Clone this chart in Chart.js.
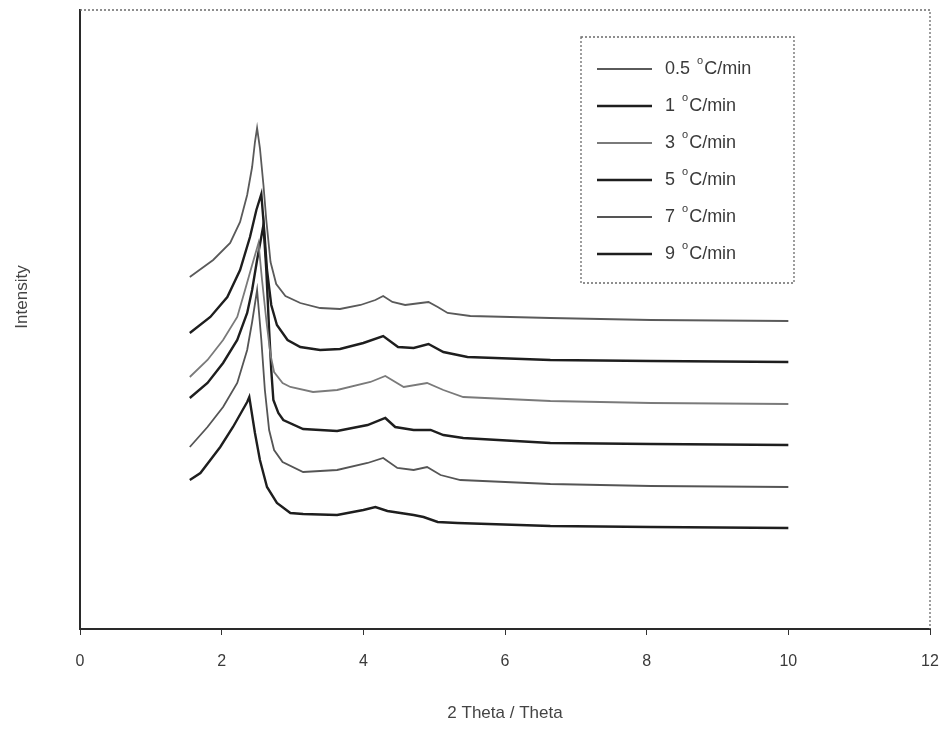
<!DOCTYPE html>
<html>
<head>
<meta charset="utf-8">
<script src="https://cdn.jsdelivr.net/npm/chart.js@4.4.1/dist/chart.umd.min.js"></script>
<style>
  html, body { margin: 0; padding: 0; background: #fff; }
</style>
</head>
<body>
<canvas id="graficoXRD" width="948" height="729"></canvas>
<script>
// heating rates (legend)
const rates = ['0.5 °C/min', '1 °C/min', '3 °C/min', '5 °C/min', '7 °C/min', '9 °C/min'];
const xTicks = [0, 2, 4, 6, 8, 10, 12];

// 2 theta values and intensity (a.u., curves are stacked)
const x05 = [1.55, 1.88, 2.12, 2.26, 2.36, 2.43, 2.47, 2.50, 2.54, 2.59, 2.63, 2.69, 2.77, 2.90, 3.11, 3.39, 3.67, 3.96, 4.17, 4.28, 4.41, 4.59, 4.81, 4.92, 5.05, 5.19, 5.51, 6.64, 8.06, 10];
const y05 = [352, 369, 386, 407, 434, 462, 487, 501, 481, 444, 409, 367, 345, 333, 326, 321, 320, 324, 329, 333, 327, 324, 326, 327, 322, 316, 313, 311, 309, 308];

const x1 = [1.55, 1.84, 2.08, 2.26, 2.40, 2.49, 2.56, 2.60, 2.64, 2.70, 2.78, 2.93, 3.11, 3.39, 3.67, 4.00, 4.28, 4.49, 4.71, 4.92, 5.13, 5.47, 6.64, 8.06, 10];
const y1 = [296, 312, 332, 359, 392, 419, 435, 399, 359, 324, 304, 289, 282, 279, 280, 286, 293, 282, 281, 285, 277, 272, 269, 268, 267];

const x3 = [1.55, 1.80, 2.02, 2.22, 2.33, 2.43, 2.52, 2.57, 2.63, 2.69, 2.74, 2.86, 2.97, 3.29, 3.63, 4.10, 4.31, 4.57, 4.90, 5.13, 5.41, 6.64, 8.06, 10];
const y3 = [252, 269, 289, 312, 339, 364, 386, 349, 309, 274, 257, 246, 242, 237, 239, 247, 253, 242, 246, 239, 232, 228, 226, 225];

const x5 = [1.55, 1.80, 2.02, 2.22, 2.36, 2.43, 2.50, 2.59, 2.63, 2.67, 2.70, 2.73, 2.80, 2.87, 3.15, 3.63, 4.06, 4.31, 4.45, 4.71, 4.95, 5.13, 5.41, 6.64, 8.06, 10];
const y5 = [231, 246, 266, 289, 316, 339, 369, 404, 359, 299, 259, 229, 216, 209, 200, 198, 204, 211, 202, 199, 199, 194, 191, 186, 185, 184];

const x7 = [1.55, 1.80, 2.02, 2.22, 2.36, 2.43, 2.50, 2.56, 2.61, 2.67, 2.74, 2.86, 3.15, 3.63, 4.06, 4.28, 4.48, 4.71, 4.90, 5.09, 5.37, 6.64, 8.06, 10];
const y7 = [182, 202, 222, 246, 279, 307, 339, 289, 239, 199, 179, 167, 157, 159, 166, 171, 161, 159, 162, 154, 149, 145, 143, 142];

const x9 = [1.55, 1.70, 1.98, 2.16, 2.36, 2.39, 2.47, 2.54, 2.64, 2.78, 2.97, 3.15, 3.63, 4.00, 4.17, 4.34, 4.71, 4.85, 5.05, 5.33, 6.64, 8.06, 10];
const y9 = [149, 156, 182, 202, 227, 232, 196, 169, 142, 126, 116, 115, 114, 119, 122, 118, 114, 112, 107, 106, 103, 102, 101];

const series = [[x05, y05], [x1, y1], [x3, y3], [x5, y5], [x7, y7], [x9, y9]];
const colores = ['#5a5a5a', '#1e1e1e', '#7a7a7a', '#1e1e1e', '#555555', '#1e1e1e'];
const grosor = [1.8, 2.4, 1.8, 2.4, 1.8, 2.4];

const fuente = 'Liberation Sans, Arial, sans-serif';

// frame (dotted top/right), y title and legend box
const extras = {
    id: 'extras',
    afterDraw(chart) {
        const ctx = chart.ctx;
        const a = chart.chartArea;
        ctx.save();
        ctx.strokeStyle = '#6a6a6a';
        ctx.lineWidth = 1.3;
        ctx.setLineDash([2, 2]);
        ctx.beginPath();
        ctx.moveTo(a.left, a.top);
        ctx.lineTo(a.right, a.top);
        ctx.lineTo(a.right, a.bottom);
        ctx.stroke();

        // legend
        const lx = 581, ly = 37, lw = 213, lh = 246;
        ctx.strokeRect(lx, ly, lw, lh);
        ctx.setLineDash([]);
        ctx.textBaseline = 'middle';
        chart.data.datasets.forEach((ds, i) => {
            const yy = 69 + i * 37;
            ctx.strokeStyle = ds.borderColor;
            ctx.lineWidth = ds.borderWidth;
            ctx.beginPath();
            ctx.moveTo(597, yy);
            ctx.lineTo(652, yy);
            ctx.stroke();
            const partes = ds.label.split('°');
            ctx.fillStyle = '#3a3a3a';
            ctx.font = '18px ' + fuente;
            let tx = 665;
            ctx.fillText(partes[0], tx, yy);
            tx += ctx.measureText(partes[0]).width + 2;
            ctx.font = '11px ' + fuente;
            ctx.fillText('o', tx, yy - 8);
            tx += ctx.measureText('o').width + 1;
            ctx.font = '18px ' + fuente;
            ctx.fillText(partes[1], tx, yy);
        });

        // y axis title
        ctx.translate(22, 297);
        ctx.rotate(-Math.PI / 2);
        ctx.textAlign = 'center';
        ctx.fillStyle = '#444';
        ctx.font = '17px ' + fuente;
        ctx.fillText('Intensity', 0, 0);
        ctx.restore();
    }
};

new Chart(document.getElementById('graficoXRD'), {
    type: 'line',
    data: {
        datasets: series.map((s, i) => ({
            label: rates[i],
            data: s[0].map((x, j) => ({ x: x, y: s[1][j] })),
            borderColor: colores[i],
            borderWidth: grosor[i],
            pointRadius: 0,
            tension: 0,
            fill: false
        }))
    },
    options: {
        responsive: false,
        animation: false,
        devicePixelRatio: 1,
        layout: { padding: { left: 0, top: 10, right: 18, bottom: 0 } },
        plugins: {
            legend: { display: false },
            tooltip: { enabled: false }
        },
        scales: {
            x: {
                type: 'linear',
                min: 0,
                max: 12,
                afterFit: (scale) => {
                    scale.height = 100;
                    scale.paddingLeft = 0;
                    scale.paddingRight = 0;
                },
                afterBuildTicks: (scale) => { scale.ticks = xTicks.map(v => ({ value: v })); },
                ticks: {
                    color: '#3a3a3a',
                    font: { family: fuente, size: 16 },
                    padding: 17,
                    maxRotation: 0
                },
                grid: {
                    display: true,
                    drawOnChartArea: false,
                    drawTicks: true,
                    tickLength: 6,
                    color: '#333'
                },
                border: { display: true, color: '#2a2a2a', width: 2 },
                title: {
                    display: true,
                    text: '2 Theta / Theta',
                    color: '#444',
                    font: { family: fuente, size: 17 },
                    padding: { top: 0, bottom: 5 }
                }
            },
            y: {
                min: 0,
                max: 619,
                afterFit: (scale) => { scale.width = 80; },
                ticks: { display: false },
                grid: { display: false },
                border: { display: true, color: '#2a2a2a', width: 2 }
            }
        }
    },
    plugins: [extras]
});
</script>
</body>
</html>
